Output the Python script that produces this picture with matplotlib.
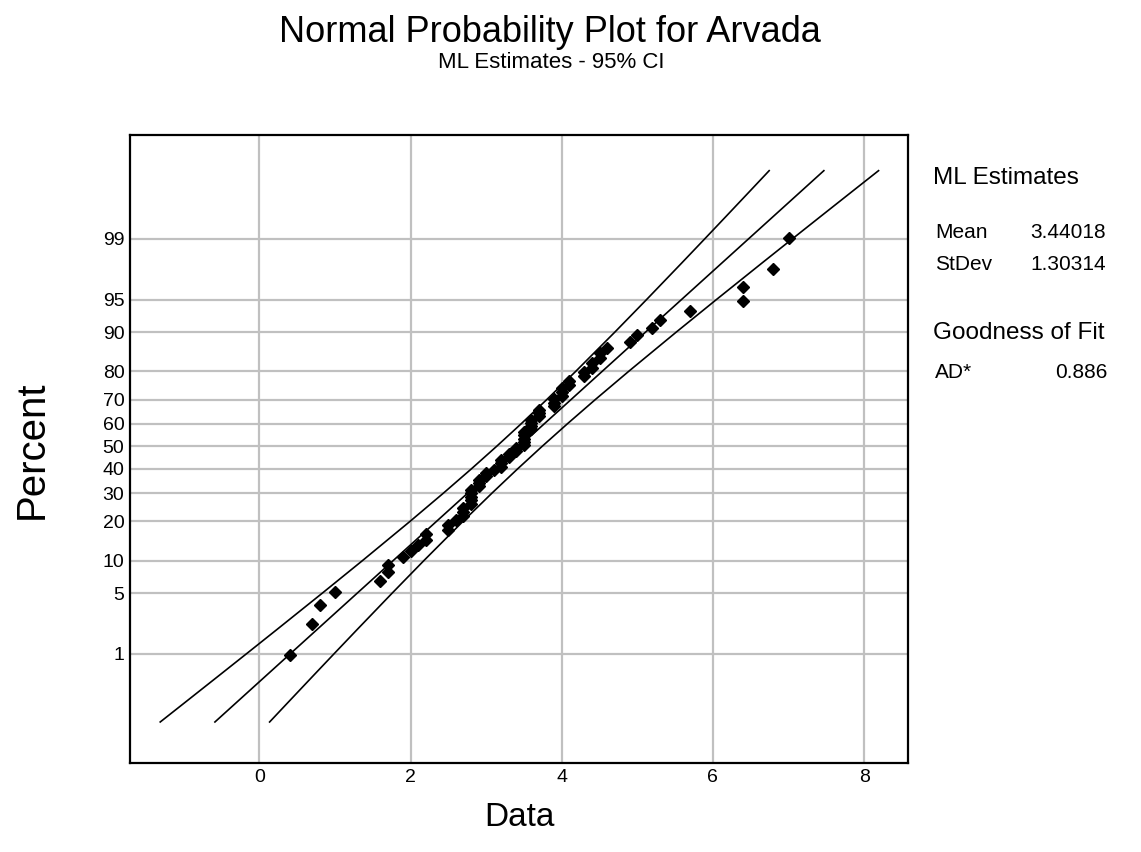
import numpy as np
import matplotlib
matplotlib.use('Agg')
import matplotlib.pyplot as plt
from statistics import NormalDist

plt.rcParams['font.family'] = ['Liberation Sans', 'DejaVu Sans']

# Данные (значения, отсортированы)
values = [0.4, 0.7, 0.8, 1.0, 1.6, 1.7, 1.7, 1.9, 2.0, 2.1, 2.2, 2.2,
          2.5, 2.5, 2.6, 2.7, 2.7, 2.7, 2.8, 2.8, 2.8, 2.8, 2.8,
          2.9, 2.9, 2.9, 3.0, 3.0, 3.1, 3.2, 3.2, 3.2, 3.3, 3.3, 3.4, 3.4,
          3.5, 3.5, 3.5, 3.5, 3.5, 3.6, 3.6, 3.6, 3.6, 3.7, 3.7, 3.7,
          3.9, 3.9, 3.9, 4.0, 4.0, 4.0, 4.1, 4.1, 4.3, 4.3, 4.4, 4.4,
          4.5, 4.5, 4.6, 4.9, 5.0, 5.2, 5.3, 5.7, 6.4, 6.4, 6.8, 7.0]

# Оценки ML (как на графике)
mean = 3.44018
stdev = 1.30314
ad_stat = 0.886

y_ticks = [1, 5, 10, 20, 30, 40, 50, 60, 70, 80, 90, 95, 99]
x_ticks = [0, 2, 4, 6, 8]
line_pcts = [0.1, 0.2, 0.5, 1, 2, 5, 10, 20, 30, 40, 50, 60, 70, 80,
             90, 95, 98, 99, 99.5, 99.8, 99.9]

nd = NormalDist()
_inv = np.vectorize(nd.inv_cdf, otypes=[float])
_cdf = np.vectorize(nd.cdf, otypes=[float])


def to_z(p):
    p = np.clip(np.asarray(p, dtype=float) / 100.0, 1e-12, 1 - 1e-12)
    return _inv(p)


def from_z(z):
    return _cdf(np.asarray(z, dtype=float)) * 100.0


# Позиции точек (медианные ранги Бенара)
x = np.sort(np.array(values))
n = len(x)
ranks = np.arange(1, n + 1)
pct = (ranks - 0.3) / (n + 0.4) * 100

# Линия подгонки и 95% доверительные границы
zl = to_z(line_pcts)
fit_x = mean + zl * stdev
half = 1.96 * stdev * np.sqrt(1.0 / n + zl ** 2 / (2.0 * n))
lo_x = fit_x - half
hi_x = fit_x + half

fig = plt.figure(figsize=(11.41, 8.52), dpi=100)
ax = fig.add_axes([130 / 1141, 1 - 763 / 852, 778 / 1141, 628 / 852])
ax.set_yscale('function', functions=(to_z, from_z))

ax.plot(fit_x, line_pcts, color='black', lw=1.2)
ax.plot(lo_x, line_pcts, color='black', lw=1.2)
ax.plot(hi_x, line_pcts, color='black', lw=1.2)
ax.plot(x, pct, 'D', color='black', ms=6, zorder=5)

ax.set_xlim(-1.71, 8.58)
ax.set_ylim(from_z(-3.55), from_z(3.49))
ax.set_xticks(x_ticks)
ax.set_yticks(y_ticks)
ax.set_yticklabels([str(t) for t in y_ticks])
ax.yaxis.set_minor_locator(matplotlib.ticker.NullLocator())
ax.grid(True, color='#c0c0c0', lw=1.6)
ax.set_axisbelow(True)
for s in ax.spines.values():
    s.set_linewidth(1.6)
ax.tick_params(labelsize=14, length=0, pad=4)

ax.set_xlabel('Data', fontsize=24, labelpad=12)
fig.text(32 / 1141, 1 - 450 / 852, 'Percent', rotation=90,
         ha='center', va='center', fontsize=29)

fig.text(550 / 1141, 1 - 32 / 852, 'Normal Probability Plot for Arvada',
         ha='center', va='center', fontsize=26)
fig.text(551 / 1141, 1 - 62 / 852, 'ML Estimates - 95% CI',
         ha='center', va='center', fontsize=16)

# Панель со статистикой справа
fig.text(933 / 1141, 1 - 178 / 852, 'ML Estimates', va='center', fontsize=17.5)
fig.text(935 / 1141, 1 - 233 / 852, 'Mean', va='center', fontsize=15)
fig.text(1030 / 1141, 1 - 233 / 852, f'{mean:.5f}', va='center', fontsize=15)
fig.text(935 / 1141, 1 - 265 / 852, 'StDev', va='center', fontsize=15)
fig.text(1030 / 1141, 1 - 265 / 852, f'{stdev:.5f}', va='center', fontsize=15)
fig.text(933 / 1141, 1 - 333 / 852, 'Goodness of Fit', va='center', fontsize=17.5)
fig.text(935 / 1141, 1 - 372 / 852, 'AD*', va='center', fontsize=15)
fig.text(1055 / 1141, 1 - 372 / 852, f'{ad_stat:.3f}', va='center', fontsize=15)

fig.savefig('out.png', dpi=100)
